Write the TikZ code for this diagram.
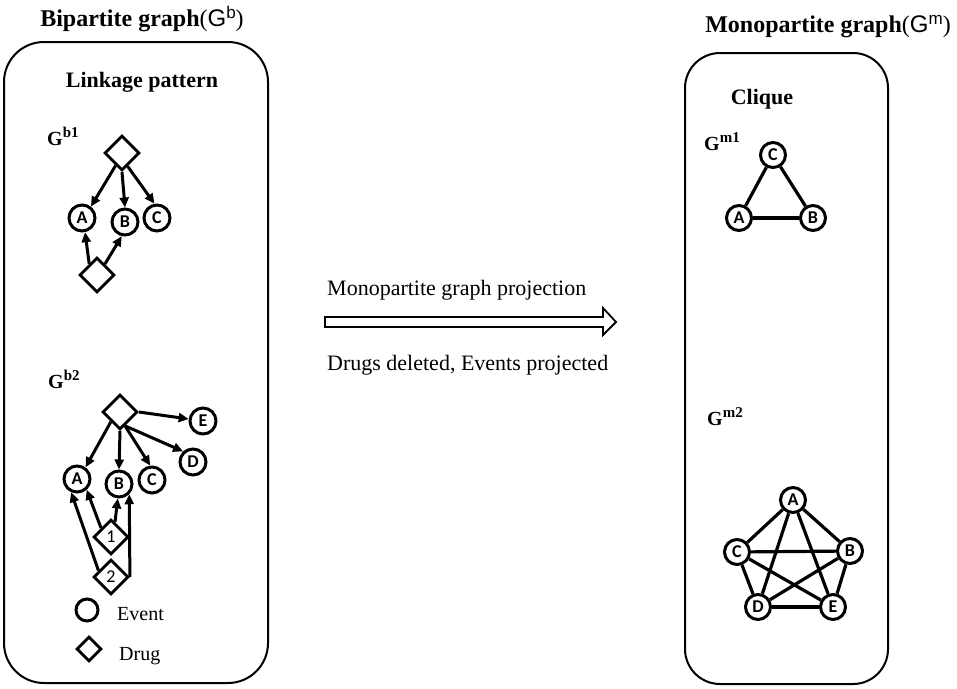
\documentclass[tikz,border=0pt]{standalone}
\usepackage{fontspec}
\setmainfont{Liberation Serif}
\newfontfamily\lblfont{Carlito}
\newfontfamily\gfont{Liberation Sans}
\usetikzlibrary{shapes.geometric,arrows.meta}
\newcommand{\gsup}[1]{\raisebox{7.5pt}{\fontsize{15}{15}\selectfont #1}}
\begin{document}
\begin{tikzpicture}[x=1pt,y=-1pt,
 ev/.style={circle,draw,line width=3pt,minimum size=26pt,inner sep=0pt,font=\lblfont\bfseries\fontsize{18}{18}\selectfont},
 dr/.style={diamond,draw,line width=2.8pt,minimum width=35pt,minimum height=35pt,inner sep=0pt,font=\lblfont\fontsize{18}{18}\selectfont},
 arr/.style={-{Triangle[length=10pt,width=9pt]},line width=3pt},
 edg/.style={line width=3.2pt},
 panel/.style={draw,line width=2pt},
 glabel/.style={anchor=base west,inner sep=0pt,font=\bfseries\fontsize{20}{20}\selectfont},
 txt/.style={anchor=base west,inner sep=0pt,font=\fontsize{22}{22}\selectfont},
 legtxt/.style={anchor=base west,inner sep=0pt,font=\fontsize{20}{20}\selectfont},
]
\useasboundingbox (0,0) rectangle (957,688);

% titles
\node[anchor=base,inner sep=0pt] (tb) at (142,26) {\bfseries\fontsize{24}{24}\selectfont Bipartite graph{\mdseries(}{\mdseries\gfont G\raisebox{8pt}{\fontsize{17}{17}\selectfont b}}{\mdseries)}};
\node[anchor=base,inner sep=0pt] (tm) at (828,32) {\bfseries\fontsize{24}{24}\selectfont Monopartite graph{\mdseries(}{\mdseries\gfont G\raisebox{8pt}{\fontsize{17}{17}\selectfont m}}{\mdseries)}};

% panels
\node[panel,rounded corners=40pt,minimum width=264pt,minimum height=641pt,inner sep=0pt] (lp) at (136,362.5) {};
\node[panel,rounded corners=35pt,minimum width=203pt,minimum height=631pt,inner sep=0pt] (rp) at (786.5,368.5) {};

\node[anchor=base,inner sep=0pt,font=\bfseries\fontsize{22}{22}\selectfont] (lk) at (142,87) {Linkage pattern};
\node[anchor=base,inner sep=0pt,font=\bfseries\fontsize{22}{22}\selectfont] (cq) at (762,104) {Clique};

% Gb1
\node[glabel] (lg1) at (47,145) {G\gsup{b1}};
\node[dr] (t1) at (122,153) {};
\node[ev] (a1) at (82,218) {A};
\node[ev] (b1) at (125,222) {B};
\node[ev] (c1) at (157,218) {C};
\node[dr] (u1) at (97,275) {};
\draw[arr] (t1.-117) -- (a1.52);
\draw[arr] (t1.south) -- (b1.north);
\draw[arr] (t1.-67) -- (c1.100);
\draw[arr] (u1.125) -- (a1.-78);
\draw[arr] (u1.54) -- (b1.-103);

% Gb2
\node[glabel] (lg2) at (48,388) {G\gsup{b2}};
\node[dr] (t2) at (120,412) {};
\node[ev] (e2) at (203,421) {E};
\node[ev] (d2) at (193,462) {D};
\node[ev] (c2) at (152,480) {C};
\node[ev] (b2) at (119,484) {B};
\node[ev] (a2) at (77,479) {A};
\node[dr] (p1) at (111,537) {1};
\node[dr] (p2) at (111,577) {2};
\draw[arr] (t2.-133) -- (a2.54);
\draw[arr] (t2.south) -- (b2.north);
\draw[arr] (t2.-70) -- (c2.97);
\draw[arr] (t2.-70) -- (d2.133);
\draw[arr] (t2.east) -- (e2);
\draw[arr] (p1.138) -- (a2.-48);
\draw[arr] (p1.75) -- (b2.-95);
\draw[arr] (p2.153) -- (a2.-114);
\draw[arr] (p2.east) -- (b2.-45);

% legend
\node[ev,minimum size=22pt] (lev) at (87,610) {};
\node[legtxt] (tev) at (117,620) {Event};
\node[dr,minimum width=25pt,minimum height=25pt] (ldr) at (89,649) {};
\node[legtxt] (tdr) at (119,660) {Drug};

% projection arrow
\node[txt] (pt) at (327,295) {Monopartite graph projection};
\node[txt] (pd) at (327,370) {Drugs deleted, Events projected};
\coordinate (ps) at (325,322);
\coordinate (pe) at (616,322);
\draw[line width=1.8pt,line join=miter] (ps) ++(0,-5) -- ++(278,0) -- ++(0,-9) -- (pe) -- ++(-13,13) -- ++(0,-8) -- ++(-278,0) -- cycle;

% Gm1
\node[glabel] (lm1) at (704,150) {G\gsup{m1}};
\node[ev,minimum size=25pt] (mc1) at (773,155) {C};
\node[ev,minimum size=25pt] (ma1) at (739,218) {A};
\node[ev,minimum size=25pt] (mb1) at (813,218) {B};
\draw[edg] (mc1) -- (ma1);
\draw[edg] (mc1) -- (mb1);
\draw[edg] (ma1) -- (mb1);

% Gm2
\node[glabel] (lm2) at (707,425) {G\gsup{m2}};
\node[ev,minimum size=25pt] (ma2) at (793,500) {A};
\node[ev,minimum size=25pt] (mc2) at (737,552) {C};
\node[ev,minimum size=25pt] (mb2) at (850,551) {B};
\node[ev,minimum size=25pt] (md2) at (758,607) {D};
\node[ev,minimum size=25pt] (me2) at (833,607) {E};
\draw[edg] (ma2) -- (mc2);
\draw[edg] (ma2) -- (mb2);
\draw[edg] (ma2) -- (md2);
\draw[edg] (ma2) -- (me2);
\draw[edg] (mc2) -- (mb2);
\draw[edg] (mc2) -- (md2);
\draw[edg] (mc2) -- (me2);
\draw[edg] (mb2) -- (md2);
\draw[edg] (mb2) -- (me2);
\draw[edg] (md2) -- (me2);
\end{tikzpicture}
\end{document}
